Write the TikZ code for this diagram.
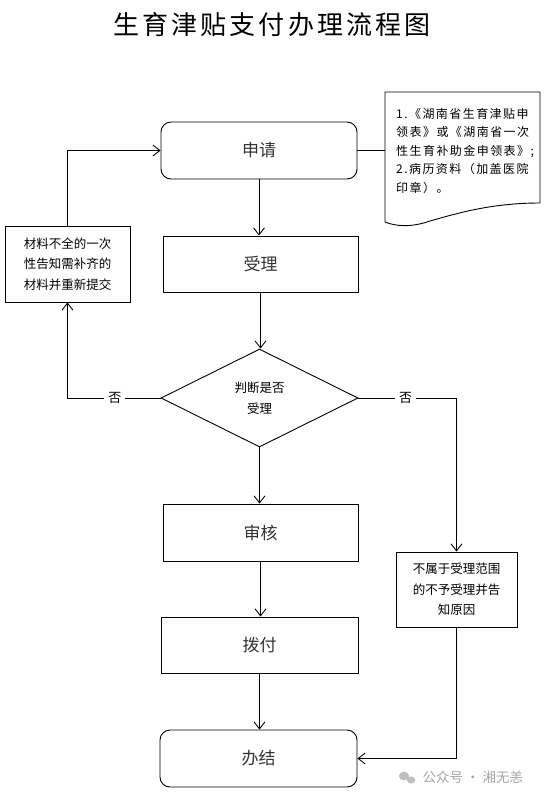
\documentclass[tikz,border=0pt]{standalone}
\usepackage{fontspec}
\setmainfont{Noto Sans CJK SC}
\usetikzlibrary{arrows.meta,shapes.geometric}
\tikzset{
  box/.style={draw, line width=0.9pt, minimum width=196pt, minimum height=57pt, inner sep=0pt, font=\fontsize{17}{20}\selectfont, text=black!80},
  rbox/.style={box, rounded corners=10pt},
  note/.style={draw, line width=0.9pt, inner sep=0pt, align=center, font=\fontsize{12.5}{20.5}\selectfont},
  dec/.style={draw, diamond, line width=0.9pt, minimum width=197pt, minimum height=98pt, inner sep=0pt, align=center, font=\fontsize{12.5}{21}\selectfont},
  conn/.style={line width=0.9pt},
  arr/.style={conn, -{Straight Barb[length=7pt,width=11pt,line width=0.9pt]}},
  lbl/.style={fill=white, inner sep=4pt, font=\fontsize{13}{15}\selectfont}
}
\begin{document}
\begin{tikzpicture}[x=1pt,y=-1pt]
\useasboundingbox (0,0) rectangle (544,798);
\fill[white] (0,0) rectangle (544,798);

% title
\node[font=\fontsize{26}{30}\selectfont\addfontfeatures{LetterSpace=12}] (title) at (272,25) {生育津贴支付办理流程图};

% main column
\node[rbox] (sq) at (259,150.5) {申请};
\node[box, minimum width=195pt, minimum height=56pt] (sl) at (260.5,264) {受理};
\node[dec] (dm) at (259.5,398) {判断是否\\受理};
\node[box, minimum width=195pt] (sh) at (260.5,532.5) {审核};
\node[box, minimum width=197pt, minimum height=56pt] (bf) at (259.5,645) {拨付};
\node[rbox, minimum width=197pt] (bj) at (258.5,758.5) {办结};

% side boxes
\node[note, minimum width=125pt, minimum height=76pt] (lb) at (67.5,264) {材料不全的一次\\性告知需补齐的\\材料并重新提交};
\node[note, minimum width=121pt, minimum height=75pt] (rb) at (456.5,589.5) {不属于受理范围\\的不予受理并告\\知原因};

% document shape
\coordinate (dtl) at (385,92);
\coordinate (dtr) at (540,92);
\coordinate (dbr) at (540,203);
\coordinate (dbl) at (385,222);
\draw[line width=0.9pt] (dbl) -- (dtl) -- (dtr) -- (dbr)
  .. controls (490,203) and (455,214) .. (430,221)
  .. controls (410,228) and (395,226) .. (dbl);
\node[inner sep=0pt, anchor=west, align=left, font=\fontsize{12}{18.5}\selectfont\addfontfeatures{LetterSpace=12}] (doc) at (396,150.5)
  {1.《湖南省生育津贴申\\领表》或《湖南省一次\\性生育补助金申领表》;\\2.病历资料（加盖医院\\印章）。};

% connectors
\draw[conn] (sq.east) -- (sq.east -| dtl);
\draw[arr] (sq.south) -- (sq.south |- sl.north);
\draw[arr] (sl.south) -- (sl.south |- dm.north);
\draw[arr] (dm.south) -- (dm.south |- sh.north);
\draw[arr] (sh.south) -- (sh.south |- bf.north);
\draw[arr] (bf.south) -- (bf.south |- bj.north);
\draw[arr] (dm.west) -| node[lbl, pos=0.245] (no1) {否} (lb.south);
\draw[arr] (lb.north) |- (sq.west);
\draw[arr] (dm.east) -| node[lbl, pos=0.24] (no2) {否} (rb.north);
\draw[arr] (rb.south) |- (bj.east);

% watermark
\fill[black!25] (404,776) ellipse (5pt and 4.3pt);
\fill[black!25] (411,780) ellipse (4.2pt and 3.6pt);
\node[text=black!35, font=\fontsize{13.5}{15}\selectfont, anchor=west] (wm) at (419,777) {公众号 · 湘无恙};
\end{tikzpicture}
\end{document}
